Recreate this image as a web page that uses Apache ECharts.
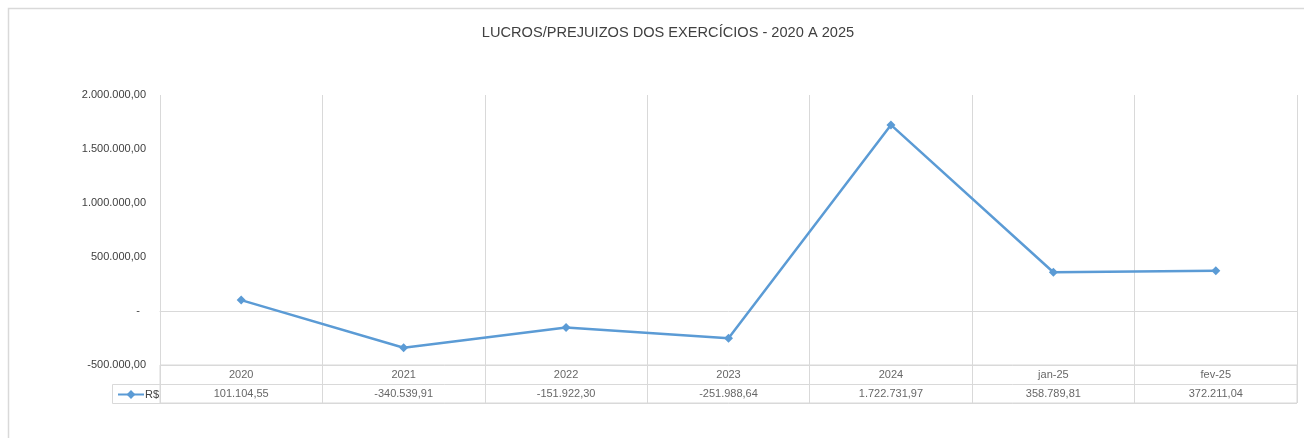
<!DOCTYPE html>
<html>
<head>
<meta charset="utf-8">
<script src="https://cdn.jsdelivr.net/npm/echarts@6/dist/echarts.min.js"></script>
<style>
html,body{margin:0;padding:0;background:#fff;}
#chart{width:1304px;height:438px;}
</style>
</head>
<body>
<div id="chart"></div>
<script>
const title = 'LUCROS/PREJUIZOS DOS EXERCÍCIOS - 2020 A 2025';
const seriesName = 'R$';
const categories = ['2020', '2021', '2022', '2023', '2024', 'jan-25', 'fev-25'];
const values = [101104.55, -340539.91, -151922.30, -251988.64, 1722731.97, 358789.81, 372211.04];
const yMin = -500000;
const yMax = 2000000;
const yInterval = 500000;
const tableRows = ['cat', 'val'];

function fmtBR(v) {
  const neg = v < 0;
  const parts = Math.abs(v).toFixed(2).split('.');
  const ip = parts[0].replace(/\B(?=(\d{3})+(?!\d))/g, '.');
  return (neg ? '-' : '') + ip + ',' + parts[1];
}

const FONT = 'Liberation Sans';
const GRID = '#d9d9d9';
const TXT = '#404040';

const tableData = [];
categories.forEach((c, i) => {
  tableData.push({ value: [c, 'cat'], label: { formatter: c } });
  tableData.push({ value: [c, 'val'], label: { formatter: fmtBR(values[i]) } });
});

const chart = echarts.init(document.getElementById('chart'), null, { renderer: 'canvas' });
chart.setOption({
  backgroundColor: '#fff',
  animation: false,
  title: {
    text: title,
    left: 663, textAlign: 'center', top: 20,
    textStyle: { fontFamily: FONT, fontSize: 14.6, fontWeight: 'normal', color: '#404040' }
  },
  legend: {
    data: [seriesName],
    left: 112, top: 384,
    itemWidth: 26, itemHeight: 11, itemGap: 0,
    textStyle: { fontFamily: FONT, fontSize: 11, color: TXT, padding: [0, 0, 0, -4] }
  },
  graphic: [
    { type: 'rect', shape: { x: 8.5, y: 8.5, width: 1400, height: 500 }, style: { fill: 'none', stroke: GRID, lineWidth: 1.5 }, silent: true, z: -1 },
    { type: 'rect', shape: { x: 112.5, y: 384.5, width: 48, height: 19 }, style: { fill: 'none', stroke: GRID, lineWidth: 1 }, silent: true }
  ],
  grid: [
    { left: 160, right: 7, top: 95, height: 270, containLabel: false },
    { left: 160, right: 7, top: 365, height: 38, show: true, borderColor: GRID, borderWidth: 1, backgroundColor: 'transparent' }
  ],
  xAxis: [
    {
      gridIndex: 0, type: 'category', data: categories, boundaryGap: true,
      axisLine: { show: true, onZero: true, lineStyle: { color: GRID, width: 1 } },
      axisTick: { show: false }, axisLabel: { show: false },
      splitLine: { show: true, lineStyle: { color: GRID, width: 1 } }
    },
    {
      gridIndex: 1, type: 'category', data: categories, boundaryGap: true,
      axisLine: { show: false }, axisTick: { show: false }, axisLabel: { show: false },
      splitLine: { show: true, lineStyle: { color: GRID, width: 1 } }
    }
  ],
  yAxis: [
    {
      gridIndex: 0, type: 'value', min: yMin, max: yMax, interval: yInterval,
      axisLine: { show: false }, axisTick: { show: false },
      splitLine: { show: false },
      axisLabel: {
        margin: 14, fontFamily: FONT, fontSize: 11, color: TXT,
        formatter: v => v === 0 ? '{z|-}' : fmtBR(v),
        rich: { z: { fontFamily: FONT, fontSize: 11, color: TXT, padding: [0, 6, 0, 0] } }
      }
    },
    {
      gridIndex: 1, type: 'category', data: tableRows, inverse: true, boundaryGap: true,
      axisLine: { show: false }, axisTick: { show: false }, axisLabel: { show: false },
      splitLine: { show: true, lineStyle: { color: GRID, width: 1 } }
    }
  ],
  series: [
    {
      name: seriesName, type: 'line', xAxisIndex: 0, yAxisIndex: 0,
      data: values,
      color: '#5b9bd5',
      lineStyle: { width: 2.5, color: '#5b9bd5' },
      itemStyle: { color: '#5b9bd5' },
      symbol: 'diamond', symbolSize: 9, showSymbol: true
    },
    {
      name: 'table', type: 'scatter', xAxisIndex: 1, yAxisIndex: 1,
      data: tableData, symbolSize: 0, silent: true,
      label: { show: true, position: 'inside', fontFamily: FONT, fontSize: 11, color: TXT }
    }
  ]
});
</script>
</body>
</html>
